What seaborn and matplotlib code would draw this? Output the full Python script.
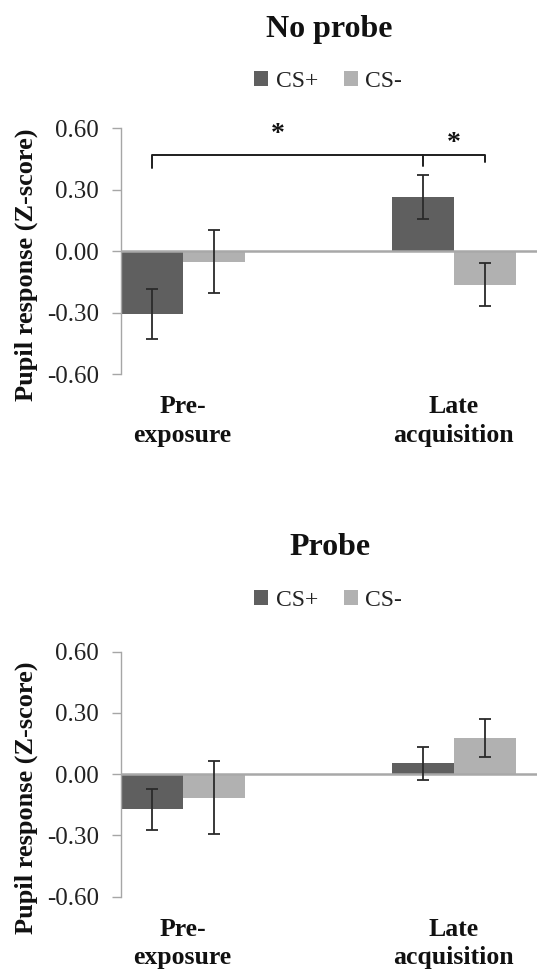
import numpy as np
import pandas as pd
import matplotlib
matplotlib.use("Agg")
import matplotlib.pyplot as plt
from matplotlib.patches import Patch
import seaborn as sns

# ---- data ----
phases = ["Pre-\nexposure", "Late\nacquisition"]
stimuli = ["CS+", "CS-"]
panels = ["No probe", "Probe"]

noprobe_csplus = [-0.305, 0.265]
noprobe_csminus = [-0.050, -0.163]
noprobe_csplus_err = [0.122, 0.108]
noprobe_csminus_err = [0.153, 0.105]

probe_csplus = [-0.173, 0.053]
probe_csminus = [-0.116, 0.175]
probe_csplus_err = [0.101, 0.081]
probe_csminus_err = [0.178, 0.093]

yticks = [-0.60, -0.30, 0.00, 0.30, 0.60]
ytick_labels = ["-0.60", "-0.30", "0.00", "0.30", "0.60"]
ylabel = "Pupil response (Z-score)"
colors = {"CS+": "#5f5f5f", "CS-": "#b1b1b1"}

# significance annotation (No probe panel)
bracket_y = 0.47
star_labels = ["*", "*"]

sns.set_theme(style="white")
plt.rcParams["font.family"] = ["Liberation Serif", "DejaVu Serif"]

fig = plt.figure(figsize=(5.37, 9.72), dpi=100)
ax_top = fig.add_axes([0.2244, 0.6149, 0.7756, 0.2531])
ax_bot = fig.add_axes([0.2244, 0.0775, 0.7756, 0.2522])


def make_df(plus, minus):
    rows = []
    for ph, v in zip(phases, plus):
        rows.append({"phase": ph, "stim": "CS+", "value": v})
    for ph, v in zip(phases, minus):
        rows.append({"phase": ph, "stim": "CS-", "value": v})
    return pd.DataFrame(rows)


def draw(ax, plus, minus, plus_err, minus_err):
    df = make_df(plus, minus)
    sns.barplot(data=df, x="phase", y="value", hue="stim", order=phases,
                hue_order=stimuli, palette=colors, width=0.4585,
                errorbar=None, legend=False, saturation=1, ax=ax,
                edgecolor="none", zorder=2)
    centers = []
    for cont, errs, vals in zip(ax.containers, [plus_err, minus_err], [plus, minus]):
        xs = [p.get_x() + p.get_width() / 2 for p in cont.patches]
        centers.append(xs)
        ax.errorbar(xs, vals, yerr=errs, fmt="none", ecolor="#2a2a2a",
                    elinewidth=1.3, capsize=4, capthick=1.3, zorder=4)
    ax.axhline(0, color="#a8a8a8", lw=1.8, zorder=3)
    ax.set_ylim(-0.6, 0.6)
    ax.set_xlim(-0.229, 1.307)
    ax.set_yticks(yticks)
    ax.set_yticklabels(ytick_labels, fontsize=18, color="#222222")
    ax.set_xlabel("")
    ax.set_ylabel("")
    for s in ["top", "right", "bottom"]:
        ax.spines[s].set_visible(False)
    ax.spines["left"].set_color("#a6a6a6")
    ax.spines["left"].set_linewidth(1.0)
    ax.tick_params(axis="y", direction="out", length=6.5, width=1.0,
                   color="#a6a6a6", pad=9, left=True)
    ax.tick_params(axis="x", length=0, pad=15)
    for lab in ax.get_xticklabels():
        lab.set_fontsize(18.5)
        lab.set_fontweight("bold")
        lab.set_color("#111111")
        lab.set_linespacing(1.3)
    return centers


c_top = draw(ax_top, noprobe_csplus, noprobe_csminus, noprobe_csplus_err, noprobe_csminus_err)
c_bot = draw(ax_bot, probe_csplus, probe_csminus, probe_csplus_err, probe_csminus_err)

# bracket on No probe panel
x_l = c_top[0][0]
x_m = c_top[0][1]
x_r = c_top[1][1]
ax_top.plot([x_l, x_l, x_r, x_r], [bracket_y - 0.065, bracket_y, bracket_y, bracket_y - 0.035],
            color="#1e1e1e", lw=1.4, clip_on=False, zorder=5, solid_joinstyle="round")
ax_top.plot([x_m, x_m], [bracket_y, bracket_y - 0.055], color="#1e1e1e", lw=1.4,
            clip_on=False, zorder=5)
ax_top.text(0.35, 0.57, star_labels[0], ha="center", va="center", fontsize=20,
            fontweight="bold", color="#111111")
ax_top.text((x_m + x_r) / 2, 0.525, star_labels[1], ha="center", va="center", fontsize=20,
            fontweight="bold", color="#111111")

# titles, legends, y labels
for title, y_title, y_leg, y_lab in [(panels[0], 0.962, 0.916, 0.7274),
                                      (panels[1], 0.4288, 0.382, 0.1795)]:
    fig.text(0.6136, y_title, title, ha="center", va="baseline", fontsize=23,
             fontweight="bold", color="#111111")
    handles = [Patch(facecolor=colors[s], edgecolor="none", label=s) for s in stimuli]
    fig.legend(handles=handles, loc="center", bbox_to_anchor=(0.611, y_leg), ncol=2,
               frameon=False, fontsize=17, handlelength=0.6, handleheight=0.6,
               handletextpad=0.3, columnspacing=1.1, labelcolor="#222222")
    fig.text(0.0497, y_lab, ylabel, rotation=90, ha="center", va="center",
             fontsize=19, fontweight="bold", color="#111111")

fig.savefig("out.png", dpi=100, facecolor="white")
